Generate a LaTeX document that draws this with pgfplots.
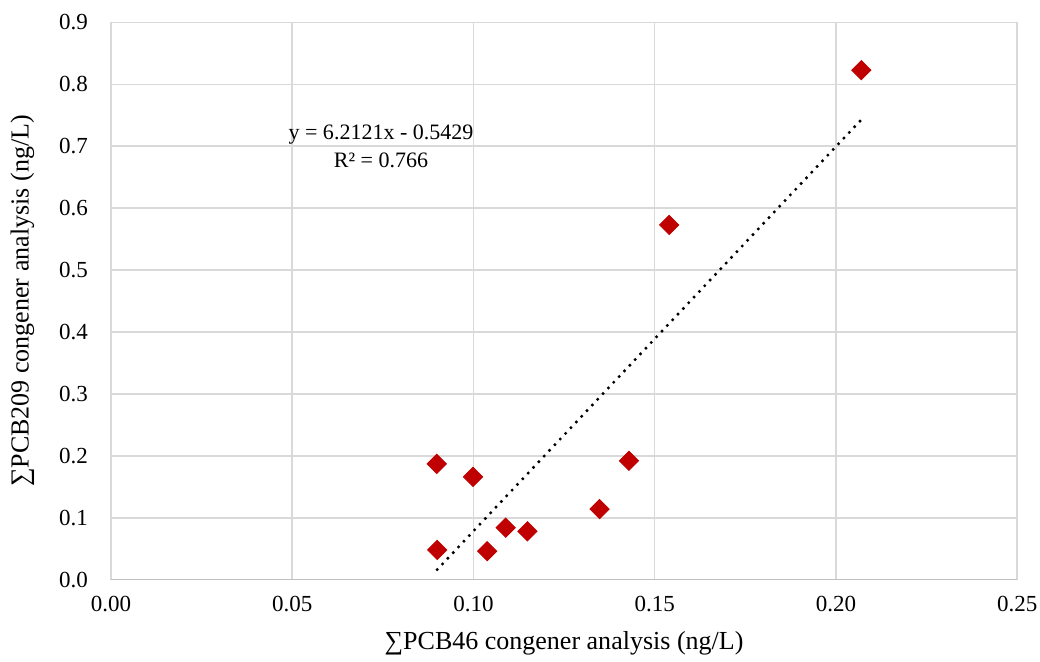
\documentclass[border={2pt 0pt -2pt 4pt}]{standalone}
\usepackage{pgfplots}
\pgfplotsset{compat=1.18}
\usepackage{fontspec}
\setmainfont{Liberation Serif}
\definecolor{ptred}{HTML}{C00000}
\definecolor{gridgray}{HTML}{D9D9D9}
\definecolor{axgray}{HTML}{BFBFBF}
\begin{document}
\begin{tikzpicture}
\begin{axis}[
  scale only axis,
  width=453pt,
  height=278.5pt,
  xmin=0, xmax=0.25,
  ymin=0, ymax=0.9,
  xtick={0,0.05,...,0.25},
  ytick={0,0.1,...,0.9},
  grid=major,
  grid style={gridgray, line width=0.8pt},
  axis line style={draw=none},
  major tick length=0pt,
  /pgf/number format/assume math mode=true,
  xticklabel style={yshift=-4.5pt, /pgf/number format/fixed,
    /pgf/number format/fixed zerofill, /pgf/number format/precision=2},
  yticklabel style={xshift=-8pt, /pgf/number format/fixed,
    /pgf/number format/fixed zerofill, /pgf/number format/precision=1},
  tick label style={font=\fontsize{11.5}{13}\selectfont},
  label style={font=\fontsize{13}{15}\selectfont},
  xlabel={∑PCB46 congener analysis (ng/L)},
  ylabel={∑PCB209 congener analysis (ng/L)},
  xlabel style={yshift=-3pt},
  ylabel style={yshift=5.5pt},
  clip=false,
]
\addplot[only marks, mark=square*, mark size=3.4pt,
  mark options={rotate=45, fill=ptred, draw=ptred}] coordinates {
  (0.0899,0.187) (0.0999,0.166) (0.0900,0.048) (0.1038,0.046)
  (0.1089,0.084) (0.1149,0.078) (0.1348,0.114) (0.1429,0.192)
  (0.1540,0.573) (0.2070,0.823)
};
\addplot[black, line width=1.7pt, dash pattern=on 0pt off 3.9pt, line cap=round] coordinates {
  (0.0900,0.0162) (0.2070,0.7430)
};
\draw[axgray, line width=0.8pt] (axis cs:0,0) -- (axis cs:0.25,0);
\node[align=center, font=\fontsize{11}{14}\selectfont] at (axis cs:0.0745,0.700)
  {y = 6.2121x - 0.5429\\R² = 0.766};
\end{axis}
\end{tikzpicture}
\end{document}
